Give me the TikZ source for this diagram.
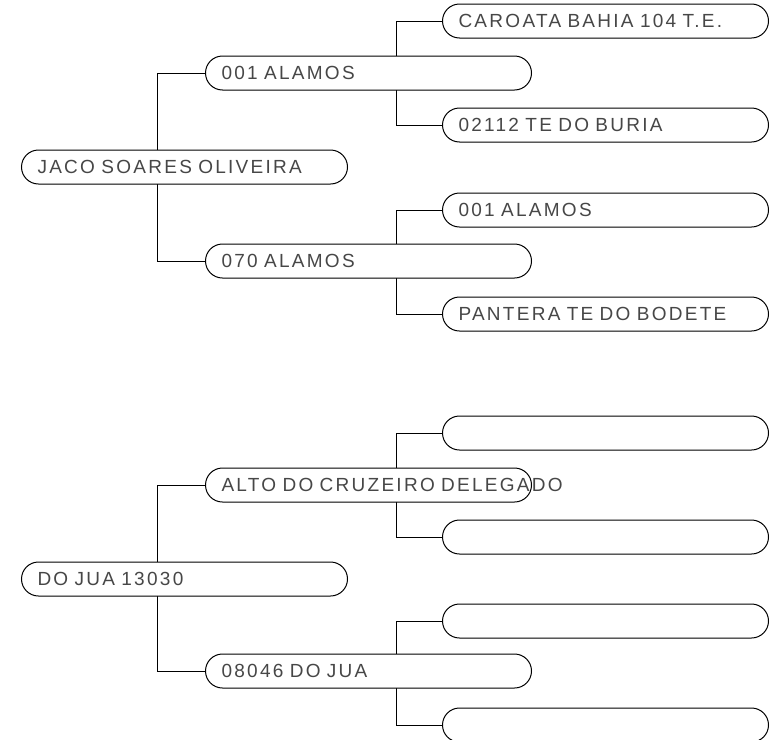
\documentclass[tikz,border=0pt]{standalone}
\usepackage{fontspec}
\setmainfont[LetterSpace=12,WordSpace=2.2]{Liberation Sans}
\usetikzlibrary{backgrounds}
\tikzset{
  pill/.style={draw, rounded corners=17pt, fill=white, anchor=west,
    minimum height=34pt, text width=294pt, inner xsep=16pt, inner ysep=0pt,
    text height=13pt, text depth=0pt, align=left, line width=1pt,
    font=\fontsize{19}{20}\selectfont, text=black!72},
  branch/.style={line width=1pt}
}
\begin{document}
\begin{tikzpicture}[x=1pt,y=-1pt]
    \useasboundingbox (0,0) rectangle (776,739);
    % first tree
    \node[pill] (root1) at (21,167) {JACO SOARES OLIVEIRA};
    \node[pill] (a1) at (205,73) {001 ALAMOS};
    \node[pill] (b1) at (205,261) {070 ALAMOS};
    \node[pill] (a1up) at (442,21) {CAROATA BAHIA 104 T.E.};
    \node[pill] (a1dn) at (442,125) {02112 TE DO BURIA};
    \node[pill] (b1up) at (442,210) {001 ALAMOS};
    \node[pill] (b1dn) at (442,314) {PANTERA TE DO BODETE};
    % second tree
    \node[pill] (root2) at (21,579) {DO JUA 13030};
    \node[pill] (a2) at (205,485) {\mbox{ALTO DO CRUZEIRO DELEGADO}};
    \node[pill] (b2) at (205,671) {08046 DO JUA};
    \node[pill] (a2up) at (442,433) {};
    \node[pill] (a2dn) at (442,537) {};
    \node[pill] (b2up) at (442,621) {};
    \node[pill] (b2dn) at (442,725) {};
    \begin{scope}[on background layer]
        \draw[branch] (a1.west) -- ++(-48,0) |- (b1.west);
        \draw[branch] (a1up.west) -- ++(-46,0) |- (a1dn.west);
        \draw[branch] (b1up.west) -- ++(-46,0) |- (b1dn.west);
        \draw[branch] (a2.west) -- ++(-48,0) |- (b2.west);
        \draw[branch] (a2up.west) -- ++(-46,0) |- (a2dn.west);
        \draw[branch] (b2up.west) -- ++(-46,0) |- (b2dn.west);
    \end{scope}
\end{tikzpicture}
\end{document}
